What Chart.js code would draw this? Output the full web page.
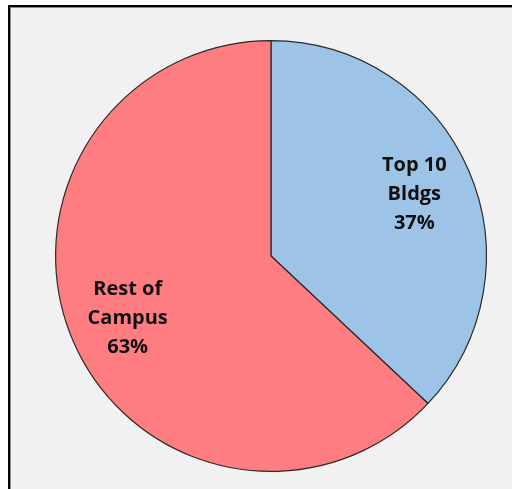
<!DOCTYPE html>
<html>
<head>
<meta charset="utf-8">
<script src="https://cdn.jsdelivr.net/npm/chart.js@4.4.0/dist/chart.umd.min.js"></script>
<style>
  html, body { margin: 0; padding: 0; background: #fff; }
  body { width: 512px; height: 489px; position: relative; overflow: hidden; }
  #frame {
    position: absolute; left: 8px; top: 5px; width: 520px; height: 500px;
    border-top: 2px solid #000; border-left: 2px solid #000;
    box-shadow: inset 1px 1px 0 #8a8a8a;
    background: #f1f1f1;
  }
  #wrap { position: absolute; left: 0; top: 0; width: 512px; height: 489px; }
</style>
</head>
<body>
<div id="frame"></div>
<div id="wrap"><canvas id="pie_chart" width="512" height="489"></canvas></div>
<script>
// pie data
const categories = ["Top 10\nBldgs", "Rest of\nCampus"];
const shares = [37, 63];
const sliceColors = ["#9dc3e6", "#ff7c80"];

// writes each slice's label inside it
const sliceLabels = {
  id: "sliceLabels",
  afterDatasetsDraw(chart) {
    const ctx = chart.ctx;
    const arcs = chart.getDatasetMeta(0).data;
    ctx.save();
    ctx.font = "bold 20px 'Open Sans'";
    ctx.fillStyle = "#111";
    ctx.textAlign = "center";
    ctx.textBaseline = "middle";
    arcs.forEach((arc, i) => {
      const mid = (arc.startAngle + arc.endAngle) / 2;
      const r = arc.outerRadius * 0.725;
      const x = arc.x + Math.cos(mid) * r;
      const y = arc.y + Math.sin(mid) * r;
      const lines = chart.data.labels[i].split("\n");
      lines.push(shares[i] + "%");
      const lh = 29;
      lines.forEach((line, j) => {
        ctx.fillText(line, x, y + (j - (lines.length - 1) / 2) * lh);
      });
    });
    ctx.restore();
  }
};

const ctx = document.getElementById("pie_chart");
const chart = new Chart(ctx, {
  type: "pie",
  data: {
    labels: categories,
    datasets: [{
      data: shares,
      backgroundColor: sliceColors,
      borderColor: "#2b2b2b",
      borderWidth: 1.2
    }]
  },
  options: {
    responsive: false,
    animation: false,
    layout: { padding: { left: 55, right: 25, top: 40, bottom: 17 } },
    plugins: {
      legend: { display: false },
      tooltip: { enabled: false }
    }
  },
  plugins: [sliceLabels]
});
</script>
</body>
</html>
